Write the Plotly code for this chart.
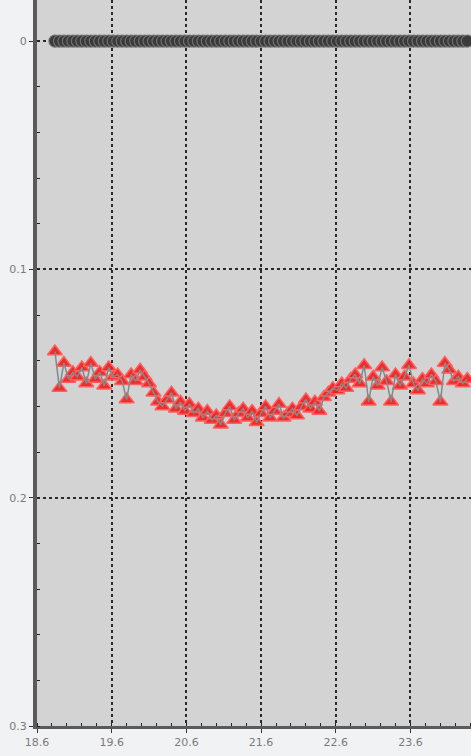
import plotly.graph_objects as go

# Sample positions along the horizontal axis
x_pos = [18.84, 18.90, 18.96, 19.02, 19.08, 19.14, 19.20, 19.26, 19.32, 19.38,
         19.44, 19.50, 19.56, 19.62, 19.68, 19.74, 19.80, 19.86, 19.92, 19.98,
         20.04, 20.10, 20.16, 20.22, 20.28, 20.34, 20.40, 20.46, 20.52, 20.58,
         20.64, 20.70, 20.76, 20.82, 20.88, 20.94, 21.00, 21.06, 21.12, 21.18,
         21.24, 21.30, 21.36, 21.42, 21.48, 21.54, 21.60, 21.66, 21.72, 21.78,
         21.84, 21.90, 21.96, 22.02, 22.08, 22.14, 22.20, 22.26, 22.32, 22.38,
         22.44, 22.50, 22.56, 22.62, 22.68, 22.74, 22.80, 22.86, 22.92, 22.98,
         23.04, 23.10, 23.16, 23.22, 23.28, 23.34, 23.40, 23.46, 23.52, 23.58,
         23.64, 23.70, 23.76, 23.82, 23.88, 23.94, 24.00, 24.06, 24.12, 24.18,
         24.24, 24.30, 24.36]

# Reference trace (flat at zero)
baseline = [0.0, 0.0, 0.0, 0.0, 0.0, 0.0, 0.0, 0.0, 0.0, 0.0,
            0.0, 0.0, 0.0, 0.0, 0.0, 0.0, 0.0, 0.0, 0.0, 0.0,
            0.0, 0.0, 0.0, 0.0, 0.0, 0.0, 0.0, 0.0, 0.0, 0.0,
            0.0, 0.0, 0.0, 0.0, 0.0, 0.0, 0.0, 0.0, 0.0, 0.0,
            0.0, 0.0, 0.0, 0.0, 0.0, 0.0, 0.0, 0.0, 0.0, 0.0,
            0.0, 0.0, 0.0, 0.0, 0.0, 0.0, 0.0, 0.0, 0.0, 0.0,
            0.0, 0.0, 0.0, 0.0, 0.0, 0.0, 0.0, 0.0, 0.0, 0.0,
            0.0, 0.0, 0.0, 0.0, 0.0, 0.0, 0.0, 0.0, 0.0, 0.0,
            0.0, 0.0, 0.0, 0.0, 0.0, 0.0, 0.0, 0.0, 0.0, 0.0,
            0.0, 0.0, 0.0]

# Measured trace
measured = [0.136, 0.152, 0.141, 0.148, 0.145, 0.147, 0.143, 0.150, 0.141, 0.148,
            0.145, 0.151, 0.143, 0.147, 0.146, 0.149, 0.157, 0.146, 0.149, 0.144,
            0.147, 0.150, 0.154, 0.158, 0.160, 0.157, 0.154, 0.161, 0.158, 0.162,
            0.159, 0.163, 0.161, 0.165, 0.162, 0.166, 0.164, 0.168, 0.163, 0.160,
            0.166, 0.163, 0.161, 0.165, 0.162, 0.167, 0.163, 0.160, 0.165, 0.162,
            0.159, 0.165, 0.163, 0.161, 0.164, 0.160, 0.157, 0.161, 0.158, 0.162,
            0.156, 0.154, 0.152, 0.153, 0.150, 0.152, 0.148, 0.146, 0.150, 0.142,
            0.158, 0.147, 0.151, 0.143, 0.149, 0.158, 0.146, 0.151, 0.147, 0.142,
            0.150, 0.153, 0.148, 0.150, 0.146, 0.149, 0.158, 0.141, 0.144, 0.149,
            0.147, 0.150, 0.148]

x_ticks = [18.6, 19.6, 20.6, 21.6, 22.6, 23.6]
x_tick_text = ["18.6", "19.6", "20.6", "21.6", "22.6", "23.6"]
y_ticks = [0, 0.1, 0.2, 0.3]
y_tick_text = ["0", "0.1", "0.2", "0.3"]

fig = go.Figure()

# Zero trace: dark bar of overlapping circles
fig.add_trace(go.Scatter(
    x=x_pos, y=baseline, mode="lines+markers",
    line=dict(color="#1e1e1e", width=4),
    marker=dict(symbol="circle", size=12, color="#3a3a3a",
                line=dict(color="#6e6e6e", width=1.2)),
    showlegend=False, hoverinfo="skip",
))

# Measured trace: red triangles with the grey connecting line drawn over them
fig.add_trace(go.Scatter(
    x=x_pos, y=measured, mode="markers",
    marker=dict(symbol="triangle-up", size=13, color="rgba(240,30,30,0.92)",
                line=dict(color="rgba(255,95,95,1)", width=1.5)),
    showlegend=False, hoverinfo="skip",
))
fig.add_trace(go.Scatter(
    x=x_pos, y=measured, mode="lines",
    line=dict(color="#7f8c8c", width=1.5),
    showlegend=False, hoverinfo="skip",
))

tick_font = dict(family="DejaVu Sans", size=11, color="#7a7a7a")

fig.update_layout(
    width=471, height=756,
    margin=dict(l=37, r=0, t=0, b=30),
    paper_bgcolor="#f1f2f4",
    plot_bgcolor="#d3d3d3",
    xaxis=dict(
        range=[18.6, 24.41],
        tickvals=x_ticks, ticktext=x_tick_text,
        tickfont=tick_font,
        showgrid=True, gridcolor="#2a2a2a", griddash="dot", gridwidth=1.5,
        showline=True, linecolor="#5a5a5a", linewidth=3,
        ticks="outside", ticklen=4, tickcolor="#333",
        minor=dict(dtick=0.2, tick0=18.6, ticks="inside", ticklen=3,
                   tickcolor="#222", showgrid=False),
        zeroline=False,
    ),
    yaxis=dict(
        range=[0.3, -0.018],
        tickvals=y_ticks, ticktext=y_tick_text,
        tickfont=tick_font,
        showgrid=True, gridcolor="#2a2a2a", griddash="dot", gridwidth=1.5,
        showline=True, linecolor="#5a5a5a", linewidth=4,
        ticks="outside", ticklen=4, tickcolor="#333",
        minor=dict(dtick=0.02, tick0=0, ticks="inside", ticklen=3,
                   tickcolor="#222", showgrid=False),
        zeroline=False,
    ),
)

fig.write_html("out.html")
